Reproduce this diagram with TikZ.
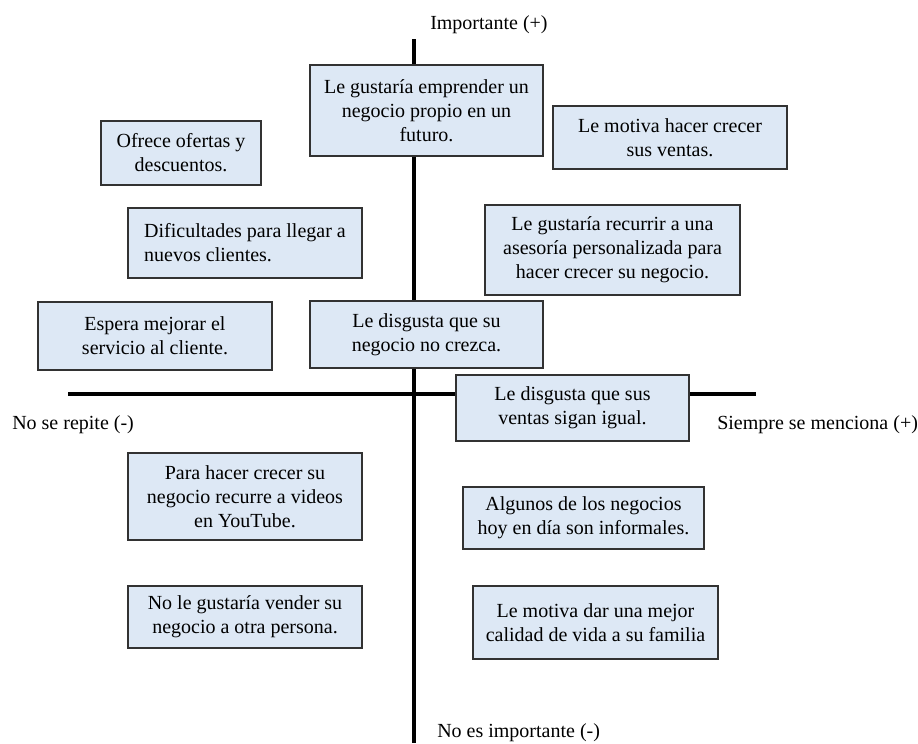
\documentclass[tikz,border=0pt]{standalone}
\usepackage{fontspec}
\setmainfont{Liberation Serif}
\definecolor{boxfill}{RGB}{221,232,245}
\definecolor{boxdraw}{RGB}{50,50,50}
\tikzset{
  x=0.75pt, y=-0.75pt,
  txt/.style={font=\fontsize{15}{18}\selectfont, inner sep=0pt},
  bx/.style 2 args={draw=boxdraw, line width=1.1pt, fill=boxfill, inner sep=0pt,
    minimum width=#1*0.75pt, minimum height=#2*0.75pt, align=center,
    font=\fontsize{15}{18}\selectfont},
  axis/.style={line width=3pt, black}
}
\begin{document}
\begin{tikzpicture}
\useasboundingbox (0,0) rectangle (918,743);
% axes
\coordinate (vtop) at (414,39);
\coordinate (vbot) at (414,743);
\coordinate (hleft) at (68,394);
\coordinate (hright) at (756,394);
\draw[axis] (vtop) -- (vbot);
\draw[axis] (hleft) -- (hright);
% axis labels
\node[txt, anchor=west] (lt) at (430,25) {Importante (+)};
\node[txt, anchor=west] (ll) at (12,425) {No se repite (-)};
\node[txt, anchor=west] (lr) at (717,425) {Siempre se menciona (+)};
\node[txt, anchor=west] (lb) at (437,733) {No es importante (-)};
% boxes
\node[bx={233}{91}] (A) at (426.5,110.5) {Le gustaría emprender un\\negocio propio en un\\futuro.};
\node[bx={234}{63}] (B) at (670,137.5) {Le motiva hacer crecer\\sus ventas.};
\node[bx={160}{64}] (C) at (181,153) {Ofrece ofertas y\\descuentos.};
\node[bx={234}{70}, align=left] (D) at (245,243) {Dificultades para llegar a\\nuevos clientes.};
\node[bx={255}{90}] (E) at (612.5,250) {Le gustaría recurrir a una\\asesoría personalizada para\\hacer crecer su negocio.};
\node[bx={234}{68}] (F) at (155,336) {Espera mejorar el\\servicio al cliente.};
\node[bx={233}{67}] (G) at (426.5,334.5) {Le disgusta que su\\negocio no crezca.};
\node[bx={233}{66}] (H) at (572.5,408) {Le disgusta que sus\\ventas sigan igual.};
\node[bx={234}{87}] (I) at (245,496.5) {Para hacer crecer su\\negocio recurre a videos\\en YouTube.};
\node[bx={241}{62}] (J) at (583.5,518) {Algunos de los negocios\\hoy en día son informales.};
\node[bx={234}{62}] (K) at (245,617) {No le gustaría vender su\\negocio a otra persona.};
\node[bx={245}{73}] (L) at (595.5,622.5) {Le motiva dar una mejor\\calidad de vida a su familia};
\end{tikzpicture}
\end{document}
